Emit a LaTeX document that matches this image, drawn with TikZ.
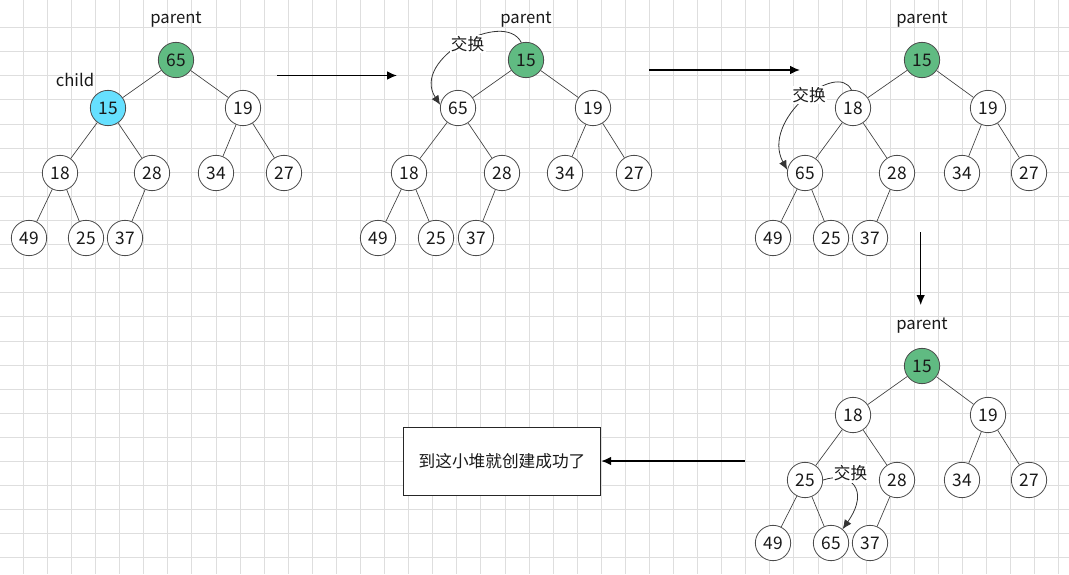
\documentclass[tikz,border=0pt]{standalone}
\usepackage{fontspec}
\setmainfont{Noto Sans CJK SC}
\usetikzlibrary{arrows.meta}
\usetikzlibrary{positioning}
\definecolor{rootgreen}{RGB}{96,187,130}
\definecolor{childcyan}{RGB}{102,224,255}
\definecolor{gridgray}{RGB}{222,222,222}

\begin{document}
\begin{tikzpicture}[
      x = 0.75pt, y = -0.75pt,
      >= {Latex[length = 7.5pt, width = 6.5pt]},
      txt/.style = { font = \fontsize{12.5}{15}\selectfont, text = black!90 },
      heap/.style = {
        circle, draw = black!70, line width = 0.6pt, fill = white,
        minimum size = 26.5pt, inner sep = 0pt, txt, font = \fontsize{13}{15}\selectfont
      },
      rootnode/.style = { fill = rootgreen },
      childnode/.style = { fill = childcyan },
      link/.style = { draw = black!75, line width = 0.5pt },
      flow/.style = { ->, line width = 1.1pt },
      swaparrow/.style = { -{Latex[length = 7pt, width = 6pt]}, line width = 0.6pt, black!80 },
      swaplabel/.style = { txt, fill = white, inner sep = 1pt },
    ]
    \useasboundingbox (0,0) rectangle (1069,574);
    % grid
    \foreach \k in {0,...,43} { \draw[gridgray, line width = 0.75pt] (23.4+24.08*\k,0) -- ++(0,574); }
    \foreach \k in {0,...,22} { \draw[gridgray, line width = 0.75pt] (0,27.7+24.1*\k) -- ++(1069,0); }

    % first heap
    \node[heap, rootnode] (a1) at (176,60) {65};
    \node[heap, childnode] (a2) at (108,108) {15};
    \node[heap] (a3) at (243,108) {19};
    \node[heap] (a4) at (60,173) {18};
    \node[heap] (a5) at (152,173) {28};
    \node[heap] (a6) at (216,173) {34};
    \node[heap] (a7) at (284,173) {27};
    \node[heap] (a8) at (29,238) {49};
    \node[heap] (a9) at (86,238) {25};
    \node[heap] (a10) at (125,238) {37};
    % second heap
    \node[heap, rootnode] (b1) at (526,60) {15};
    \node[heap] (b2) at (458,108) {65};
    \node[heap] (b3) at (593,108) {19};
    \node[heap] (b4) at (409,173) {18};
    \node[heap] (b5) at (502,173) {28};
    \node[heap] (b6) at (565,173) {34};
    \node[heap] (b7) at (634,173) {27};
    \node[heap] (b8) at (378,238) {49};
    \node[heap] (b9) at (436,238) {25};
    \node[heap] (b10) at (476,238) {37};
    % third heap
    \node[heap, rootnode] (c1) at (922,60) {15};
    \node[heap] (c2) at (853,108) {18};
    \node[heap] (c3) at (988,108) {19};
    \node[heap] (c4) at (805,173) {65};
    \node[heap] (c5) at (897,173) {28};
    \node[heap] (c6) at (962,173) {34};
    \node[heap] (c7) at (1029,173) {27};
    \node[heap] (c8) at (773,238) {49};
    \node[heap] (c9) at (831,238) {25};
    \node[heap] (c10) at (870,238) {37};
    % fourth heap
    \node[heap, rootnode] (d1) at (922,366) {15};
    \node[heap] (d2) at (853,415) {18};
    \node[heap] (d3) at (988,415) {19};
    \node[heap] (d4) at (805,480) {25};
    \node[heap] (d5) at (897,480) {28};
    \node[heap] (d6) at (962,480) {34};
    \node[heap] (d7) at (1029,480) {27};
    \node[heap] (d8) at (773,543) {49};
    \node[heap] (d9) at (831,543) {65};
    \node[heap] (d10) at (870,543) {37};

    \foreach \t in {a,b,c,d} {
      \foreach \p/\c in {1/2,1/3,2/4,2/5,3/6,3/7,4/8,4/9,5/10} { \draw[link] (\t\p) -- (\t\c); }
    }

    \node[txt] (pa) at (176,20) {parent};
    \node[txt] (pb) at (526,20) {parent};
    \node[txt] (pc) at (922,20) {parent};
    \node[txt] (pd) at (922,326) {parent};
    \node[txt] (ch) at (75,80) {child};

    \draw[swaparrow] (b1.105) .. controls +(-17,-34) and +(-30,-46) .. (b2.170);
    \draw[swaparrow] (c2.95) .. controls +(-14,-30) and +(-27,-50) .. (c4.170);
    \draw[swaparrow] (d4.east) .. controls +(27,-9) and +(28,-40) .. (d9.50);
    \node[swaplabel] (sw1) at (467.5,44) {交换};
    \node[swaplabel] (sw2) at (809,95) {交换};
    \node[swaplabel] (sw3) at (850.5,473.5) {交换};

    \node[draw = black!85, line width = 0.75pt, fill = white, minimum width = 148pt, minimum height = 51pt, txt]
      (done) at (502,461) {到这小堆就创建成功了};

    \coordinate (f1s) at (277,75.5);
    \coordinate (f1e) at (397,75.5);
    \coordinate (f2s) at (649,70);
    \coordinate (f2e) at (800,70);
    \coordinate (f3s) at (920.7,232);
    \coordinate (f3e) at (920.7,305);
    \coordinate (f4s) at (745,461);
    \draw[flow] (f1s) -- (f1e);
    \draw[flow] (f2s) -- (f2e);
    \draw[flow] (f3s) -- (f3e);
    \draw[flow] (f4s) -- (done);
  \end{tikzpicture}
\end{document}
